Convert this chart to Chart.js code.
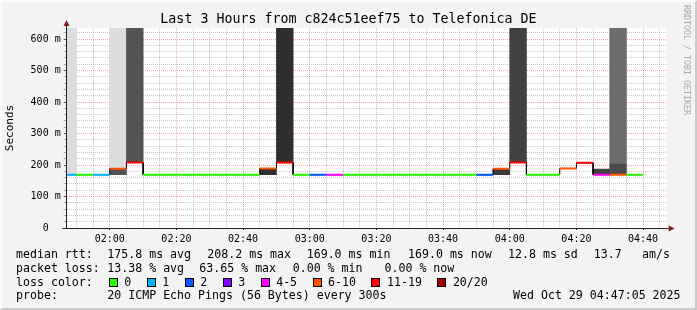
<!DOCTYPE html>
<html>
<head>
<meta charset="utf-8">
<script src="https://cdn.jsdelivr.net/npm/chart.js@4.4.0/dist/chart.umd.min.js"></script>
<style>
  html, body { margin: 0; padding: 0; background: #f3f3f3; }
  #wrap { position: relative; width: 697px; height: 310px; overflow: hidden; }
  #chart { position: absolute; left: 0; top: 0; }
  #frame { position: absolute; left: 0; top: 0; width: 697px; height: 310px; box-sizing: border-box;
           border-top: 2px solid #fcfcfc; border-left: 2px solid #fcfcfc;
           border-right: 2px solid #cbcbcb; border-bottom: 2px solid #cbcbcb; pointer-events: none; }
  #title { position: absolute; left: 0; top: 11px; width: 697px; text-align: center;
           font-family: "DejaVu Sans Mono", monospace; font-size: 13.3px; line-height: 16px; color: #000; white-space: pre; }
  .leg { position: absolute; font-family: "DejaVu Sans Mono", monospace; font-size: 11.6px;
         line-height: 14px; color: #000; white-space: pre; }
  .box { display: inline-block; width: 7px; height: 7px; border: 1px solid #000; vertical-align: -1px; margin-right: 6.6px; }
  .lossItem { margin-right: 15.4px; }
  #wm { position: absolute; left: 682px; top: 5px; writing-mode: vertical-rl; font-family: "DejaVu Sans Mono", monospace;
        font-size: 8.3px; color: #a8a8a8; white-space: pre; }
</style>
</head>
<body>
<div id="wrap">
  <canvas id="chart" width="697" height="310"></canvas>
  <div id="title">Last 3 Hours from c824c51eef75 to Telefonica DE</div>
  <div id="legend"></div>
  <div id="wm">RRDTOOL / TOBI OETIKER</div>
  <div id="frame"></div>
</div>
<script>
// 5-minute slots (start time), median rtt and lost pings out of 20
const slotStart = ['01:45','01:50','01:55','02:00','02:05','02:10','02:15','02:20','02:25','02:30',
                   '02:35','02:40','02:45','02:50','02:55','03:00','03:05','03:10','03:15','03:20',
                   '03:25','03:30','03:35','03:40','03:45','03:50','03:55','04:00','04:05','04:10',
                   '04:15','04:20','04:25','04:30','04:35'];
const medianMs = [169.0, 169.0, 169.0, 188.4, 208.2, 169.0, 169.0, 169.0, 169.0, 169.0,
                  169.0, 169.0, 188.9, 207.6, 169.0, 169.0, 169.0, 169.0, 169.0, 169.0,
                  169.0, 169.0, 169.0, 169.0, 169.0, 169.0, 188.1, 207.9, 169.0, 169.0,
                  189.2, 206.8, 169.2, 169.4, 169.0];
const lossPings = [1, 0, 1, 6, 13, 0, 0, 0, 0, 0,
                   0, 0, 7, 12, 0, 2, 4, 0, 0, 0,
                   0, 0, 0, 0, 0, 2, 6, 13, 0, 0,
                   6, 12, 5, 7, 0];

// smoke bands: slot, low, high (ms), density (% of pings)
const smokeSlot    = ['01:45','02:00','02:00','02:05','02:45','02:50','03:55','04:00','04:25','04:30','04:30'];
const smokeLow     = [169.0, 169.0, 188.4, 208.2, 169.0, 207.6, 169.0, 207.9, 169.0, 169.0, 205.0];
const smokeHigh    = [700, 188.4, 700, 700, 188.9, 700, 188.1, 700, 187.0, 205.0, 700];
const smokeDensity = [2, 74, 2, 74, 94, 94, 88, 84, 84, 79, 61];

// loss colour legend
const lossUpTo   = [0, 1, 2, 3, 5, 10, 19, 20];
const lossNames  = ['0', '1', '2', '3', '4-5', '6-10', '11-19', '20/20'];
const lossColors = ['#26ff00', '#00b8ff', '#0059ff', '#7e00ff', '#ff00ff', '#ff5500', '#ff0000', '#a10000'];

// axes
const timeFrom = '01:47:05';
const timeTo = '04:47:05';
const xTickLabels = ['02:00','02:20','02:40','03:00','03:20','03:40','04:00','04:20','04:40'];
const yTickLabels = ['0  ','100 m','200 m','300 m','400 m','500 m','600 m'];
const yMax = 635;

const toMin = s => { const p = s.split(':').map(Number); return p[0] * 60 + p[1] + (p[2] || 0) / 60; };
const pad2 = n => String(n).padStart(2, '0');
const fmtMin = v => pad2(Math.floor(v / 60)) + ':' + pad2(Math.round(v % 60));
const lossColor = n => lossColors[lossUpTo.findIndex(e => n <= e)];
const slotLen = 5;

// median line points: two per slot (start, end)
const medianPts = [];
slotStart.forEach((s, i) => {
    medianPts.push({ x: toMin(s), y: medianMs[i] });
    medianPts.push({ x: toMin(s) + slotLen, y: medianMs[i] });
});

const smokePts = smokeSlot.map((s, i) => ({
    x: toMin(s) + slotLen / 2, y: [smokeLow[i], smokeHigh[i]], d: smokeDensity[i]
}));
const smokeGrey = d => { const g = Math.round(225 - d * 1.9); return `rgb(${g},${g},${g})`; };

const MONO = '"DejaVu Sans Mono", monospace';
const minorGrid = 'rgba(140,140,140,0.45)';
const majorGrid = 'rgba(222,80,80,0.5)';

const rrdLook = {
    id: 'rrdLook',
    beforeDraw(chart) {
        const { ctx, chartArea: a } = chart;
        ctx.save();
        ctx.fillStyle = '#fff';
        ctx.fillRect(a.left, a.top, a.right - a.left, a.bottom - a.top);
        ctx.restore();
    },
    afterDraw(chart) {
        const { ctx, chartArea: a } = chart;
        const x0 = Math.round(a.left) - 0.5, y0 = Math.round(a.bottom) + 0.5;
        ctx.save();
        ctx.strokeStyle = '#1f1f1f';
        ctx.lineWidth = 1;
        ctx.beginPath();
        ctx.moveTo(x0, y0); ctx.lineTo(x0, a.top - 2);
        ctx.moveTo(x0 - 4, y0); ctx.lineTo(a.right + 2, y0);
        ctx.stroke();
        ctx.fillStyle = 'rgb(128,31,31)';
        ctx.beginPath();
        ctx.moveTo(x0, a.top - 8); ctx.lineTo(x0 - 3, a.top - 2); ctx.lineTo(x0 + 3, a.top - 2); ctx.closePath();
        ctx.fill();
        ctx.beginPath();
        ctx.moveTo(a.right + 8, y0); ctx.lineTo(a.right + 2, y0 - 3); ctx.lineTo(a.right + 2, y0 + 3); ctx.closePath();
        ctx.fill();
        ctx.restore();
    }
};

new Chart(document.getElementById('chart'), {
    type: 'bar',
    data: {
        datasets: [{
            type: 'line',
            label: 'median',
            data: medianPts,
            borderWidth: 2,
            borderColor: lossColors[0],
            segment: {
                borderColor: c => c.p0DataIndex % 2 === 0
                    ? lossColor(lossPings[c.p0DataIndex / 2]) : 'rgba(0,0,0,0)'
            },
            pointRadius: 0,
            tension: 0,
            clip: 0,
            order: 1
        }, {
            type: 'line',
            label: 'median step',
            data: medianPts,
            borderWidth: 1,
            borderColor: '#000',
            pointRadius: 0,
            tension: 0,
            clip: 0,
            order: 2
        }, {
            type: 'bar',
            label: 'smoke',
            data: smokePts,
            backgroundColor: c => smokeGrey(c.raw.d),
            borderWidth: 0,
            barPercentage: 1,
            categoryPercentage: 1,
            grouped: false,
            clip: 0,
            order: 3
        }]
    },
    options: {
        responsive: false,
        animation: false,
        events: [],
        layout: { padding: { top: 28, right: 30.3, bottom: 0, left: 0 } },
        plugins: {
            legend: { display: false },
            tooltip: { enabled: false },
            title: { display: false }
        },
        scales: {
            x: {
                type: 'linear',
                offset: false,
                min: toMin(timeFrom),
                max: toMin(timeTo),
                z: 1,
                afterFit: s => { s.height = 82; },
                afterBuildTicks: s => {
                    const t = [];
                    for (let v = Math.ceil(s.min / slotLen) * slotLen; v <= s.max; v += slotLen) t.push({ value: v });
                    s.ticks = t;
                },
                grid: {
                    offset: false,
                    color: c => c.tick && c.tick.value % 20 === 0 ? majorGrid : minorGrid,
                    tickColor: c => c.tick && c.tick.value % 20 === 0 ? '#1f1f1f' : 'rgba(0,0,0,0)',
                    tickLength: 2
                },
                border: { display: true, color: '#1f1f1f', dash: [1, 1] },
                ticks: {
                    autoSkip: false,
                    maxRotation: 0,
                    padding: 3,
                    color: '#000',
                    font: { family: MONO, size: 10 },
                    callback: v => xTickLabels.includes(fmtMin(v)) && v % 20 === 0 ? fmtMin(v) : ''
                }
            },
            y: {
                type: 'linear',
                min: 0,
                max: yMax,
                z: 1,
                afterFit: s => { s.width = 66.7; },
                afterBuildTicks: s => {
                    const t = [];
                    for (let v = 0; v <= s.max; v += 20) t.push({ value: v });
                    s.ticks = t;
                },
                grid: {
                    color: c => c.tick && c.tick.value % 100 === 0 ? majorGrid : minorGrid,
                    tickColor: c => c.tick && c.tick.value % 100 === 0 ? '#555' : '#aaa',
                    tickLength: 3
                },
                border: { display: true, color: '#1f1f1f', dash: [1, 1] },
                title: {
                    display: true,
                    text: 'Seconds',
                    color: '#000',
                    font: { family: MONO, size: 11 },
                    padding: { top: 4, bottom: 0 }
                },
                ticks: {
                    autoSkip: false,
                    padding: 3,
                    color: '#000',
                    font: { family: MONO, size: 10 },
                    callback: v => v % 100 === 0 ? yTickLabels[v / 100] : ''
                }
            }
        }
    },
    plugins: [rrdLook]
});

// text legend under the graph
const legend = document.getElementById('legend');
function put(text, x, y) {
    const el = document.createElement('div');
    el.className = 'leg';
    el.style.left = x + 'px';
    el.style.top = y + 'px';
    el.textContent = text;
    legend.appendChild(el);
    return el;
}
const rows = [247, 260.7, 274.5, 288.3];
put('median rtt:', 16, rows[0]);
[['175.8 ms avg', 107.3], ['208.2 ms max', 207.3], ['169.0 ms min', 306.7],
 ['169.0 ms now', 408], ['12.8 ms sd', 508], ['13.7', 593.7], ['am/s', 642]]
    .forEach(([t, x]) => put(t, x, rows[0]));
put('packet loss:', 16, rows[1]);
[['13.38 % avg', 107.3], ['63.65 % max', 199.3], ['0.00 % min', 292.7], ['0.00 % now', 384.5]]
    .forEach(([t, x]) => put(t, x, rows[1]));
put('loss color:', 16, rows[2]);
const lossRow = put('', 108.7, rows[2]);
lossNames.forEach((n, i) => {
    const b = document.createElement('span');
    b.className = 'box';
    b.style.background = lossColors[i];
    const l = document.createElement('span');
    l.className = 'lossItem';
    l.textContent = n;
    lossRow.appendChild(b);
    lossRow.appendChild(l);
});
put('probe:', 16, rows[3]);
put('20 ICMP Echo Pings (56 Bytes) every 300s', 107.3, rows[3]);
put('Wed Oct 29 04:47:05 2025', 513, rows[3]);
</script>
</body>
</html>
